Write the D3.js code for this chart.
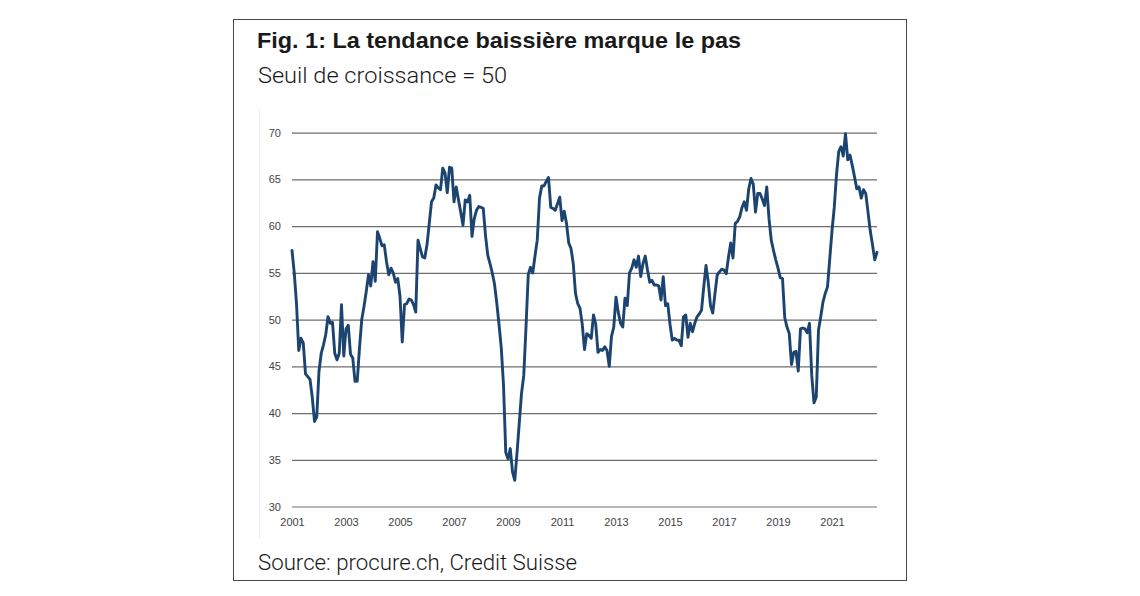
<!DOCTYPE html>
<html>
<head>
<meta charset="utf-8">
<script src="https://cdn.jsdelivr.net/npm/d3@7"></script>
<style>
  html, body { margin: 0; padding: 0; background: #fff; }
  svg { display: block; }
</style>
</head>
<body>
<svg id="chart" width="1140" height="596"></svg>
<script>
// ---- data ----
const titleText = "Fig. 1: La tendance baissière marque le pas";
const subtitleText = "Seuil de croissance = 50";
const sourceText = "Source: procure.ch, Credit Suisse";
const startYear = 2001; // first value = January 2001, monthly
const pmi = [
  57.4, 55.0, 51.7, 46.7, 48.0, 47.5, 44.2, 43.9, 43.6, 41.7, 39.1, 39.6,
  44.5, 46.4, 47.3, 48.4, 50.3, 49.6, 49.7, 46.4, 45.7, 46.4, 51.6, 46.1,
  49.0, 49.4, 46.3, 45.9, 43.4, 43.4, 47.0, 50.0, 51.4, 53.0, 54.8, 53.6,
  56.2, 54.1, 59.4, 58.7, 57.9, 58.0, 56.2, 54.8, 55.5, 55.0, 54.0, 54.4,
  52.5, 47.6, 51.6, 51.7, 52.2, 52.1, 51.6, 50.8, 58.5, 57.6, 56.7, 56.6,
  58.0, 60.3, 62.6, 63.0, 64.4, 64.1, 63.9, 66.2, 65.7, 63.6, 66.3, 66.2,
  62.6, 64.2, 62.8, 61.5, 60.1, 62.8, 62.6, 63.3, 58.9, 60.8, 61.7, 62.1,
  62.0, 61.9, 59.0, 56.9, 56.0, 55.0, 53.8, 51.8, 49.5, 47.0, 43.0, 35.8,
  35.1, 36.2, 33.7, 32.8, 35.7, 38.9, 42.1, 44.0, 49.2, 54.8, 55.6, 55.0,
  56.8, 58.5, 63.0, 64.3, 64.3, 64.8, 65.2, 62.0, 61.9, 61.7, 62.4, 63.1,
  60.6, 61.6, 60.3, 58.2, 57.6, 56.0, 52.8, 51.7, 51.2, 49.5, 46.8, 48.5,
  48.3, 48.0, 50.5, 49.5, 46.5, 46.8, 46.7, 47.1, 46.7, 45.0, 48.2, 49.2,
  52.4, 50.8, 49.6, 49.2, 52.3, 51.5, 55.0, 55.5, 56.4, 55.6, 56.8, 54.6,
  56.0, 56.8, 55.3, 54.0, 54.2, 53.7, 53.7, 53.6, 52.1, 54.6, 51.5, 51.7,
  49.5, 47.8, 48.0, 47.8, 47.8, 47.2, 50.3, 50.5, 48.1, 49.6, 48.7, 49.6,
  50.3, 50.6, 51.0, 53.5, 55.8, 54.0, 51.5, 50.7, 52.8, 54.8, 55.1, 55.4,
  55.3, 54.9, 56.7, 58.2, 56.6, 60.3, 60.5, 61.0, 62.0, 62.6, 61.7, 64.0,
  65.1, 64.5, 61.5, 63.5, 63.5, 62.9, 62.2, 64.2, 60.8, 58.5, 57.4, 56.4,
  55.5, 54.5, 54.4, 50.2, 49.2, 48.5, 45.2, 46.5, 46.6, 44.5, 49.0, 49.1,
  49.0, 48.6, 49.6, 44.0, 41.1, 41.7, 48.9, 50.3, 51.9, 52.8, 53.5, 56.5,
  59.5, 62.0, 65.5, 68.0, 68.5, 67.5, 69.9, 67.1, 67.6, 66.5, 65.3, 64.0,
  64.2, 63.0, 63.9, 63.5, 61.5, 59.5, 58.0, 56.4, 57.2
];
const yTicks = [30, 35, 40, 45, 50, 55, 60, 65, 70];
const xTickYears = [2001, 2003, 2005, 2007, 2009, 2011, 2013, 2015, 2017, 2019, 2021];

// ---- layout ----
const svg = d3.select("#chart");
const W = 1140, H = 596;
const plot = { left: 292, right: 877, top: 132.7, bottom: 506.5 };

svg.append("rect").attr("width", W).attr("height", H).attr("fill", "#fff");

// frame
svg.append("rect")
  .attr("x", 233.5).attr("y", 19.5)
  .attr("width", 673).attr("height", 561)
  .attr("fill", "none").attr("stroke", "#4a4a4a").attr("stroke-width", 1);

// faint left guide line
svg.append("line")
  .attr("x1", 259.5).attr("x2", 259.5).attr("y1", 108).attr("y2", 538)
  .attr("stroke", "#ececec").attr("stroke-width", 1);

const series = pmi.map((v, i) => ({ t: startYear + i / 12, v }));

const x = d3.scaleLinear()
  .domain([startYear, startYear + (pmi.length - 1) / 12])
  .range([plot.left, plot.right]);
const y = d3.scaleLinear().domain([30, 70]).range([plot.bottom, plot.top]);

// titles
svg.append("text")
  .attr("x", 257).attr("y", 48)
  .attr("font-family", "'Liberation Sans', Arial, sans-serif")
  .attr("font-weight", "bold").attr("font-size", 21.5)
  .attr("fill", "#1a1a1a")
  .attr("textLength", 484).attr("lengthAdjust", "spacingAndGlyphs")
  .text(titleText);

svg.append("text")
  .attr("x", 258).attr("y", 83)
  .attr("font-family", "Roboto, 'Liberation Sans', sans-serif")
  .attr("font-weight", 300).attr("font-size", 22)
  .attr("fill", "#1a1a1a")
  .attr("textLength", 249).attr("lengthAdjust", "spacingAndGlyphs")
  .text(subtitleText);

svg.append("text")
  .attr("x", 258).attr("y", 570)
  .attr("font-family", "Roboto, 'Liberation Sans', sans-serif")
  .attr("font-weight", 300).attr("font-size", 22)
  .attr("fill", "#1a1a1a")
  .attr("textLength", 319).attr("lengthAdjust", "spacingAndGlyphs")
  .text(sourceText);

// y gridlines + labels via axis
const yAxis = d3.axisLeft(y)
  .tickValues(yTicks)
  .tickSize(-(plot.right - plot.left))
  .tickPadding(11)
  .tickFormat(d3.format("d"));

const gy = svg.append("g")
  .attr("transform", `translate(${plot.left},0)`)
  .call(yAxis);
gy.select(".domain").remove();
gy.selectAll(".tick line").attr("stroke", "#6e6e6e").attr("stroke-width", 1.2);
gy.selectAll(".tick text")
  .attr("font-family", "'Liberation Sans', Arial, sans-serif")
  .attr("font-size", 11).attr("fill", "#444");

// x axis labels
const xAxis = d3.axisBottom(x)
  .tickValues(xTickYears)
  .tickSize(0)
  .tickPadding(12)
  .tickFormat(d3.format("d"));
const gx = svg.append("g")
  .attr("transform", `translate(0,${plot.bottom})`)
  .call(xAxis);
gx.select(".domain").remove();
gx.selectAll(".tick text")
  .attr("font-family", "'Liberation Sans', Arial, sans-serif")
  .attr("font-size", 11).attr("fill", "#444");

// line
const line = d3.line().x(d => x(d.t)).y(d => y(d.v)).curve(d3.curveLinear);
svg.append("path")
  .datum(series)
  .attr("d", line)
  .attr("fill", "none")
  .attr("stroke", "#1c4470")
  .attr("stroke-width", 2.9)
  .attr("stroke-linejoin", "round")
  .attr("stroke-linecap", "round");
</script>
</body>
</html>
